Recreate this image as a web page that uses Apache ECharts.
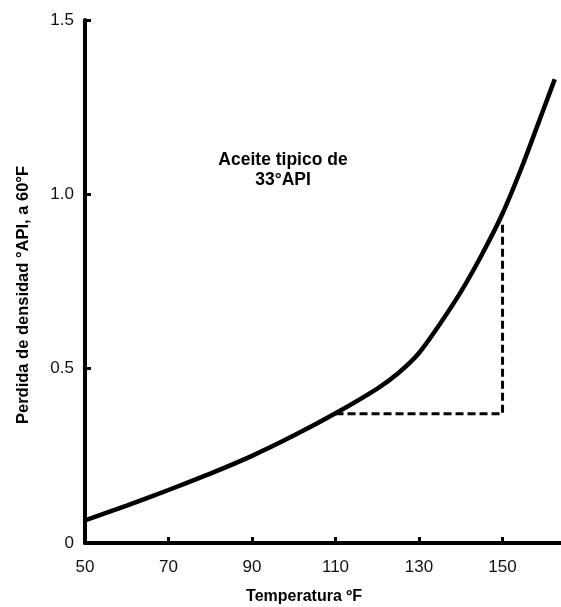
<!DOCTYPE html>
<html>
<head>
<meta charset="utf-8">
<script src="https://cdn.jsdelivr.net/npm/echarts@6/dist/echarts.min.js"></script>
<style>
html,body{margin:0;padding:0;background:#fff;}
#c{width:561px;height:607px;}
</style>
</head>
<body>
<div id="c"></div>
<script>
// Data
const temps = [50, 60, 70, 80, 90, 100, 110, 120, 125, 130, 135, 140, 145, 150, 155, 160, 162.5];
const loss = [0.065, 0.107, 0.152, 0.199, 0.25, 0.308, 0.372, 0.443, 0.487, 0.545, 0.628, 0.72, 0.826, 0.945, 1.09, 1.25, 1.33];
const guideX = [110, 150, 150];
const guideY = [0.371, 0.371, 0.917];
const xTickLabels = [50, 70, 90, 110, 130, 150];
const yTickLabels = [0, 0.5, 1.0, 1.5];
const xTitle = 'Temperatura ºF';
const yTitle = 'Perdida de densidad °API, a 60°F';
const noteLines = ['Aceite tipico de', '33°API'];

const font = '"Liberation Sans", Arial, sans-serif';
const chart = echarts.init(document.getElementById('c'), null, {renderer: 'canvas'});

chart.setOption({
  animation: false,
  backgroundColor: '#fff',
  grid: {left: 85, right: 0, top: 20, bottom: 64, containLabel: false},
  xAxis: {
    type: 'value',
    min: 50,
    max: 164,
    axisLine: {show: true, lineStyle: {color: '#000', width: 4}},
    axisTick: {show: true, inside: true, length: 6, lineStyle: {color: '#000', width: 3},
      customValues: xTickLabels.slice(1)},
    axisLabel: {customValues: xTickLabels, margin: 16, fontSize: 17, color: '#111', fontFamily: font},
    splitLine: {show: false}
  },
  yAxis: {
    type: 'value',
    min: 0,
    max: 1.5,
    axisLine: {show: true, lineStyle: {color: '#000', width: 4}},
    axisTick: {show: true, inside: true, length: 6, lineStyle: {color: '#000', width: 3},
      customValues: yTickLabels.slice(1)},
    axisLabel: {customValues: yTickLabels, margin: 11, fontSize: 17, color: '#111', fontFamily: font,
      formatter: v => (v === 0 ? '0' : v.toFixed(1))},
    splitLine: {show: false}
  },
  series: [
    {
      type: 'line',
      data: temps.map((t, i) => [t, loss[i]]),
      smooth: 0.2,
      symbol: 'none',
      lineStyle: {color: '#000', width: 4.5},
      z: 3
    },
    {
      type: 'line',
      data: guideX.map((t, i) => [t, guideY[i]]),
      symbol: 'none',
      lineStyle: {color: '#000', width: 3, type: [8, 4]},
      z: 2
    }
  ],
  graphic: [
    {type: 'text', x: 283, y: 160, style: {text: noteLines[0], font: 'bold 17.5px ' + font, fill: '#000', align: 'center', verticalAlign: 'middle'}},
    {type: 'text', x: 283, y: 180, style: {text: noteLines[1], font: 'bold 17.5px ' + font, fill: '#000', align: 'center', verticalAlign: 'middle'}},
    {type: 'text', x: 304, y: 597, style: {text: xTitle, font: 'bold 16px ' + font, fill: '#000', align: 'center', verticalAlign: 'middle'}},
    {type: 'text', x: 23, y: 295, rotation: Math.PI / 2, style: {text: yTitle, font: 'bold 16.5px ' + font, fill: '#000', align: 'center', verticalAlign: 'middle'}}
  ]
});
</script>
</body>
</html>
